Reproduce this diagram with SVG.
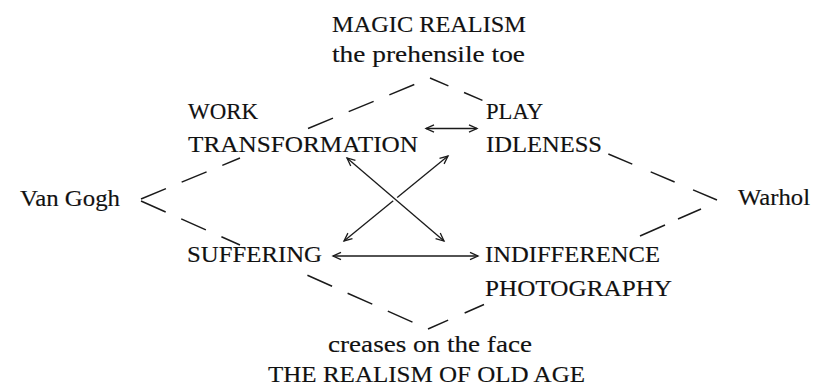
<svg xmlns="http://www.w3.org/2000/svg" width="814" height="387" viewBox="0 0 814 387">
  <defs>
    <style>
      .t { font-family: "Liberation Serif", "Times New Roman", serif; font-size: 23.5px; fill: #111111; stroke: #111111; stroke-width: 0.15px; }
      .d { fill: none; stroke: #1a1a1a; stroke-width: 1.5; stroke-linecap: butt; }
      .a { fill: none; stroke: #1a1a1a; stroke-width: 1.3; marker-start: url(#ah); marker-end: url(#ah); }
    </style>
    <marker id="ah" viewBox="-10 -6 12 12" refX="0" refY="0" markerWidth="12" markerHeight="12" markerUnits="userSpaceOnUse" orient="auto-start-reverse">
      <path d="M-8,-3.6 L0,0 L-8,3.6" fill="none" stroke="#1a1a1a" stroke-width="1.3"/>
    </marker>
  </defs>
  <rect width="814" height="387" fill="#ffffff"/>

  <g id="connectors">
    <!-- dashed diamond -->
    <line class="d" x1="141" y1="199" x2="240" y2="158" stroke-dasharray="27 17"/>
    <line class="d" x1="430" y1="78" x2="308" y2="128.5" stroke-dasharray="27 17" stroke-dashoffset="27"/>
    <line class="d" x1="430" y1="78" x2="484" y2="101" stroke-dasharray="20 17"/>
    <line class="d" x1="717" y1="200" x2="606" y2="153" stroke-dasharray="26 20"/>
    <line class="d" x1="141" y1="201" x2="240" y2="245" stroke-dasharray="27 17"/>
    <line class="d" x1="428" y1="329" x2="300" y2="272" stroke-dasharray="27 17" stroke-dashoffset="27"/>
    <line class="d" x1="428" y1="329" x2="484" y2="304.5" stroke-dasharray="22 18"/>
    <line class="d" x1="701" y1="209" x2="678" y2="219"/>
    <line class="d" x1="665" y1="225" x2="640" y2="236"/>
    <!-- arrows -->
    <line class="a" x1="426" y1="128.5" x2="477" y2="128.5"/>
    <line class="a" x1="333" y1="256" x2="478" y2="256"/>
    <line class="a" x1="448" y1="156" x2="344" y2="241"/>
    <line x1="389.7" y1="194.5" x2="400.4" y2="203.7" stroke="#ffffff" stroke-width="5"/>
    <line class="a" x1="347" y1="158" x2="444" y2="241"/>
  </g>

  <g id="magic-realism">
    <text class="t" x="332" y="32" textLength="194" lengthAdjust="spacingAndGlyphs">MAGIC REALISM</text>
    <text class="t" x="332" y="62" textLength="193" lengthAdjust="spacingAndGlyphs">the prehensile toe</text>
  </g>
  <g id="work">
    <text class="t" x="188" y="119" textLength="70" lengthAdjust="spacingAndGlyphs">WORK</text>
    <text class="t" x="188" y="152" textLength="230" lengthAdjust="spacingAndGlyphs">TRANSFORMATION</text>
  </g>
  <g id="play">
    <text class="t" x="486" y="119" textLength="57" lengthAdjust="spacingAndGlyphs">PLAY</text>
    <text class="t" x="486" y="152" textLength="116" lengthAdjust="spacingAndGlyphs">IDLENESS</text>
  </g>
  <g id="van-gogh">
    <text class="t" x="20" y="206" textLength="100" lengthAdjust="spacingAndGlyphs">Van Gogh</text>
  </g>
  <g id="warhol">
    <text class="t" x="738" y="205" textLength="72" lengthAdjust="spacingAndGlyphs">Warhol</text>
  </g>
  <g id="suffering">
    <text class="t" x="187" y="262" textLength="135" lengthAdjust="spacingAndGlyphs">SUFFERING</text>
  </g>
  <g id="indifference">
    <text class="t" x="485" y="262" textLength="175" lengthAdjust="spacingAndGlyphs">INDIFFERENCE</text>
    <text class="t" x="485" y="296" textLength="187" lengthAdjust="spacingAndGlyphs">PHOTOGRAPHY</text>
  </g>
  <g id="old-age">
    <text class="t" x="328" y="352" textLength="204" lengthAdjust="spacingAndGlyphs">creases on the face</text>
    <text class="t" x="268" y="382" textLength="317" lengthAdjust="spacingAndGlyphs">THE REALISM OF OLD AGE</text>
  </g>
</svg>
